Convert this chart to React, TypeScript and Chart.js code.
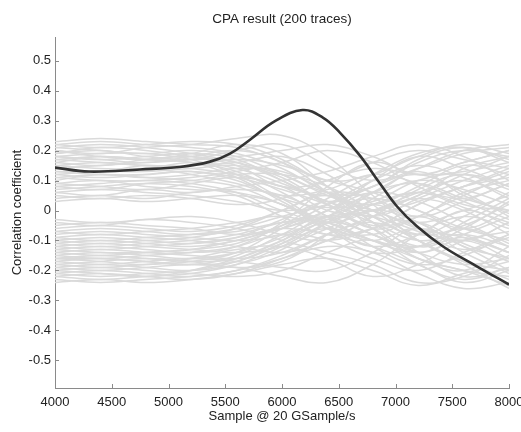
import React, { useEffect, useRef } from 'react';
import { Chart, registerables } from 'chart.js';
Chart.register(...registerables);

const TITLE = 'CPA result (200 traces)';
const X_LABEL = 'Sample @ 20 GSample/s';
const Y_LABEL = 'Correlation coefficient';
const X_TICKS = [4000, 4500, 5000, 5500, 6000, 6500, 7000, 7500, 8000];
const Y_TICKS = [-0.5, -0.4, -0.3, -0.2, -0.1, 0, 0.1, 0.2, 0.3, 0.4, 0.5];

// sample positions of the grey (wrong key) traces
const TRACE_X = [4000, 4400, 4800, 5200, 5600, 6000, 6400, 6800, 7200, 7600, 8000];

const TRACES_UPPER = [
  [0.22, 0.23, 0.22, 0.21, 0.19, 0.14, 0.06, 0.02, 0.08, 0.15, 0.12],
  [0.20, 0.19, 0.21, 0.22, 0.24, 0.25, 0.18, 0.05, -0.06, -0.10, -0.04],
  [0.18, 0.17, 0.18, 0.19, 0.17, 0.10, 0.02, -0.05, -0.02, 0.06, 0.10],
  [0.16, 0.18, 0.17, 0.16, 0.13, 0.06, -0.02, -0.08, -0.14, -0.18, -0.16],
  [0.14, 0.15, 0.16, 0.17, 0.20, 0.22, 0.15, 0.10, 0.14, 0.19, 0.21],
  [0.12, 0.11, 0.12, 0.13, 0.10, 0.04, 0.01, 0.03, 0.10, 0.12, 0.07],
  [0.10, 0.12, 0.11, 0.10, 0.08, 0.02, -0.04, -0.10, -0.16, -0.20, -0.22],
  [0.08, 0.07, 0.09, 0.10, 0.12, 0.12, 0.08, 0.00, -0.08, -0.05, 0.02],
  [0.06, 0.07, 0.06, 0.05, 0.03, 0.00, 0.02, 0.08, 0.16, 0.20, 0.18],
  [0.04, 0.05, 0.04, 0.06, 0.07, 0.05, -0.02, -0.12, -0.18, -0.15, -0.08],
  [0.21, 0.20, 0.19, 0.20, 0.18, 0.12, 0.05, 0.00, -0.04, 0.00, 0.05],
  [0.19, 0.21, 0.20, 0.18, 0.15, 0.08, 0.10, 0.16, 0.20, 0.17, 0.14],
  [0.17, 0.16, 0.15, 0.15, 0.16, 0.18, 0.12, 0.02, -0.10, -0.17, -0.20],
  [0.15, 0.14, 0.14, 0.16, 0.14, 0.09, 0.03, -0.02, 0.04, 0.10, 0.15],
  [0.13, 0.13, 0.14, 0.12, 0.09, 0.05, 0.07, 0.12, 0.09, 0.03, -0.03],
  [0.11, 0.10, 0.10, 0.11, 0.13, 0.16, 0.20, 0.16, 0.08, 0.02, 0.00],
  [0.09, 0.10, 0.08, 0.07, 0.06, 0.02, -0.06, -0.14, -0.12, -0.06, -0.12],
  [0.07, 0.08, 0.09, 0.08, 0.05, -0.02, -0.08, -0.06, 0.02, 0.08, 0.11],
  [0.23, 0.24, 0.23, 0.22, 0.21, 0.16, 0.10, 0.12, 0.18, 0.22, 0.19],
  [0.20, 0.18, 0.17, 0.19, 0.22, 0.19, 0.08, -0.04, -0.12, -0.09, -0.14],
  [0.18, 0.19, 0.19, 0.17, 0.12, 0.04, -0.03, 0.02, 0.06, 0.04, 0.09],
  [0.12, 0.13, 0.13, 0.14, 0.15, 0.11, 0.02, -0.06, -0.04, -0.11, -0.17],
  [0.05, 0.04, 0.05, 0.04, 0.02, 0.04, 0.10, 0.14, 0.12, 0.13, 0.16],
  [0.16, 0.15, 0.17, 0.18, 0.16, 0.12, 0.06, 0.06, 0.13, 0.05, -0.01],
  [0.09, 0.08, 0.07, 0.09, 0.11, 0.08, 0.00, -0.02, -0.07, -0.13, -0.09],
  [0.22, 0.21, 0.22, 0.23, 0.22, 0.17, 0.08, -0.02, -0.08, -0.02, 0.06],
  [0.19, 0.20, 0.18, 0.17, 0.18, 0.20, 0.22, 0.18, 0.12, 0.16, 0.20],
  [0.17, 0.18, 0.17, 0.16, 0.11, 0.03, -0.05, -0.10, -0.06, -0.14, -0.21],
  [0.14, 0.13, 0.15, 0.14, 0.12, 0.08, 0.05, 0.08, 0.17, 0.21, 0.17],
  [0.11, 0.12, 0.11, 0.12, 0.14, 0.13, 0.06, -0.04, -0.14, -0.22, -0.19],
  [0.08, 0.09, 0.10, 0.09, 0.06, 0.00, -0.04, 0.00, 0.06, 0.10, 0.04],
  [0.03, 0.04, 0.03, 0.04, 0.05, 0.02, -0.06, -0.08, -0.02, 0.05, 0.12],
  [0.21, 0.22, 0.21, 0.19, 0.16, 0.10, 0.03, 0.00, 0.05, 0.12, 0.18],
  [0.15, 0.16, 0.15, 0.15, 0.17, 0.15, 0.10, 0.06, 0.00, -0.06, 0.00],
  [0.13, 0.12, 0.12, 0.13, 0.11, 0.07, 0.02, -0.04, -0.10, -0.08, -0.12],
  [0.06, 0.05, 0.07, 0.06, 0.08, 0.10, 0.13, 0.18, 0.22, 0.18, 0.10],
  [0.18, 0.17, 0.16, 0.18, 0.20, 0.16, 0.06, -0.06, -0.16, -0.20, -0.25],
];

const TRACES_LOWER = [
  [-0.22, -0.23, -0.22, -0.21, -0.18, -0.12, -0.04, 0.02, 0.06, 0.01, -0.04],
  [-0.20, -0.19, -0.20, -0.21, -0.22, -0.20, -0.14, -0.10, -0.18, -0.23, -0.19],
  [-0.18, -0.19, -0.18, -0.17, -0.14, -0.06, 0.02, 0.10, 0.15, 0.11, 0.05],
  [-0.16, -0.15, -0.16, -0.17, -0.16, -0.10, -0.02, -0.06, -0.14, -0.08, -0.02],
  [-0.14, -0.15, -0.14, -0.13, -0.11, -0.05, 0.04, 0.12, 0.19, 0.21, 0.16],
  [-0.12, -0.11, -0.12, -0.13, -0.14, -0.12, -0.06, 0.00, -0.04, -0.12, -0.16],
  [-0.10, -0.11, -0.10, -0.09, -0.06, 0.00, 0.06, 0.04, -0.02, 0.03, 0.09],
  [-0.08, -0.07, -0.08, -0.09, -0.10, -0.08, -0.02, 0.06, 0.09, 0.04, 0.00],
  [-0.06, -0.05, -0.06, -0.07, -0.05, 0.00, 0.05, -0.02, -0.10, -0.17, -0.23],
  [-0.04, -0.05, -0.03, -0.04, -0.06, -0.10, -0.14, -0.18, -0.24, -0.22, -0.15],
  [-0.21, -0.20, -0.21, -0.22, -0.20, -0.15, -0.08, -0.02, 0.03, 0.08, 0.13],
  [-0.19, -0.20, -0.19, -0.18, -0.19, -0.22, -0.24, -0.18, -0.08, -0.02, -0.06],
  [-0.17, -0.16, -0.17, -0.18, -0.15, -0.08, 0.00, 0.04, 0.00, -0.06, -0.10],
  [-0.15, -0.16, -0.15, -0.14, -0.12, -0.08, -0.10, -0.16, -0.20, -0.14, -0.08],
  [-0.13, -0.12, -0.13, -0.14, -0.12, -0.04, 0.08, 0.16, 0.12, 0.16, 0.20],
  [-0.11, -0.12, -0.11, -0.10, -0.08, -0.04, -0.02, -0.08, -0.12, -0.06, 0.03],
  [-0.09, -0.08, -0.09, -0.10, -0.12, -0.14, -0.10, -0.02, 0.07, 0.12, 0.08],
  [-0.07, -0.08, -0.07, -0.06, -0.04, -0.02, -0.06, -0.12, -0.08, 0.00, -0.05],
  [-0.23, -0.24, -0.23, -0.22, -0.20, -0.16, -0.12, -0.14, -0.21, -0.26, -0.24],
  [-0.20, -0.21, -0.22, -0.20, -0.16, -0.10, -0.04, -0.08, -0.16, -0.20, -0.12],
  [-0.18, -0.17, -0.16, -0.17, -0.19, -0.17, -0.08, 0.04, 0.10, 0.07, 0.02],
  [-0.13, -0.14, -0.14, -0.13, -0.10, -0.06, -0.02, 0.00, 0.05, 0.14, 0.18],
  [-0.05, -0.04, -0.05, -0.06, -0.08, -0.06, 0.00, 0.06, 0.03, -0.04, -0.11],
  [-0.16, -0.17, -0.18, -0.16, -0.13, -0.12, -0.16, -0.22, -0.18, -0.10, -0.07],
  [-0.10, -0.09, -0.10, -0.11, -0.09, -0.03, 0.03, 0.00, -0.06, -0.09, -0.14],
  [-0.22, -0.21, -0.22, -0.23, -0.21, -0.16, -0.10, -0.06, -0.02, -0.08, -0.14],
  [-0.19, -0.18, -0.19, -0.20, -0.18, -0.13, -0.04, 0.06, 0.14, 0.20, 0.22],
  [-0.17, -0.18, -0.17, -0.16, -0.17, -0.19, -0.20, -0.14, -0.06, -0.12, -0.20],
  [-0.15, -0.14, -0.15, -0.16, -0.14, -0.09, -0.02, 0.02, -0.04, -0.10, -0.04],
  [-0.12, -0.13, -0.12, -0.11, -0.09, -0.06, -0.08, -0.12, -0.18, -0.24, -0.20],
  [-0.09, -0.10, -0.09, -0.08, -0.06, -0.02, 0.02, 0.08, 0.12, 0.06, -0.02],
  [-0.03, -0.04, -0.03, -0.02, -0.04, -0.08, -0.10, -0.06, 0.02, 0.08, 0.14],
  [-0.21, -0.22, -0.21, -0.20, -0.17, -0.11, -0.06, -0.10, -0.12, -0.04, 0.04],
  [-0.14, -0.13, -0.14, -0.15, -0.16, -0.14, -0.08, -0.04, -0.10, -0.18, -0.26],
  [-0.11, -0.10, -0.11, -0.12, -0.10, -0.05, 0.00, 0.10, 0.18, 0.14, 0.08],
  [-0.07, -0.06, -0.07, -0.08, -0.07, -0.04, -0.04, -0.10, -0.14, -0.10, -0.16],
  [-0.24, -0.23, -0.24, -0.23, -0.21, -0.18, -0.16, -0.20, -0.25, -0.21, -0.17],
  [-0.16, -0.16, -0.17, -0.18, -0.17, -0.11, -0.03, 0.00, 0.04, 0.00, -0.08],
];

// correct key guess (dark line)
const KEY_X = [4000, 4300, 4750, 5100, 5366, 5542, 5718, 5938, 6180, 6360, 6510, 6687, 6863, 7010, 7186, 7419, 7720, 8000];
const KEY_Y = [0.143, 0.13, 0.137, 0.145, 0.163, 0.19, 0.236, 0.298, 0.335, 0.31, 0.26, 0.183, 0.09, 0.015, -0.052, -0.12, -0.187, -0.247];

const FONT = "'Liberation Sans', Arial, Helvetica, sans-serif";
const TEXT = '#222222';
const AXIS = '#8a8a8a';

export default function App() {
  const ref = useRef<HTMLCanvasElement>(null);

  useEffect(() => {
    if (!ref.current) return;
    const greys = [...TRACES_UPPER, ...TRACES_LOWER].map((arr, k) => ({
      label: 'trace ' + k,
      data: TRACE_X.map((x, i) => ({ x, y: arr[i] })),
      borderColor: '#dadada',
      borderWidth: 1.5,
      pointRadius: 0,
      tension: 0.4,
      fill: false,
      order: 1,
    }));
    const key = {
      label: 'key',
      data: KEY_X.map((x, i) => ({ x, y: KEY_Y[i] })),
      borderColor: '#333333',
      borderWidth: 2.6,
      pointRadius: 0,
      tension: 0.4,
      fill: false,
      order: 0,
    };

    const tickPlugin = {
      id: 'inwardTicks',
      afterDatasetsDraw(chart: any) {
        const { ctx, chartArea, scales } = chart;
        const xs = scales.x;
        const ys = scales.y;
        ctx.save();
        ctx.strokeStyle = AXIS;
        ctx.lineWidth = 1;
        ctx.beginPath();
        X_TICKS.forEach((v) => {
          const px = Math.round(xs.getPixelForValue(v)) + 0.5;
          ctx.moveTo(px, chartArea.bottom);
          ctx.lineTo(px, chartArea.bottom - 4);
        });
        Y_TICKS.forEach((v) => {
          const py = Math.round(ys.getPixelForValue(v)) + 0.5;
          ctx.moveTo(chartArea.left, py);
          ctx.lineTo(chartArea.left + 4, py);
        });
        ctx.stroke();
        ctx.restore();
      },
    };

    const chart = new Chart(ref.current, {
      type: 'line',
      data: { datasets: [key, ...greys] as any },
      options: {
        responsive: false,
        animation: false,
        devicePixelRatio: 1,
        layout: { padding: { left: 0, right: 12, top: 0, bottom: 0 } },
        plugins: {
          legend: { display: false },
          tooltip: { enabled: false },
          title: {
            display: true,
            text: TITLE,
            fullSize: false,
            color: TEXT,
            font: { family: FONT, size: 13.5, weight: 'normal' },
            padding: { top: 11, bottom: 10 },
          },
        },
        scales: {
          x: {
            type: 'linear',
            min: 4000,
            max: 8000,
            afterBuildTicks: (s: any) => {
              s.ticks = X_TICKS.map((v) => ({ value: v }));
            },
            afterFit: (s: any) => {
              s.height = 44;
              s.paddingLeft = 0;
              s.paddingRight = 0;
            },
            grid: { display: false, drawTicks: false },
            border: { display: true, color: AXIS, width: 1 },
            ticks: {
              color: TEXT,
              font: { family: FONT, size: 13 },
              padding: 7,
              maxRotation: 0,
              autoSkip: false,
              callback: (v: any) => String(v),
            },
            title: {
              display: true,
              text: X_LABEL,
              color: TEXT,
              font: { family: FONT, size: 13 },
              padding: { top: 0, bottom: 8 },
            },
          },
          y: {
            type: 'linear',
            min: -0.592,
            max: 0.578,
            afterBuildTicks: (s: any) => {
              s.ticks = Y_TICKS.map((v) => ({ value: v }));
            },
            afterFit: (s: any) => {
              s.width = 55;
              s.paddingTop = 0;
              s.paddingBottom = 0;
            },
            grid: { display: false, drawTicks: false },
            border: { display: true, color: AXIS, width: 1 },
            ticks: {
              color: TEXT,
              font: { family: FONT, size: 13 },
              padding: 4,
              autoSkip: false,
              callback: (v: any) => String(Math.round(Number(v) * 10) / 10),
            },
            title: {
              display: true,
              text: Y_LABEL,
              color: TEXT,
              font: { family: FONT, size: 13 },
              padding: { top: 10, bottom: 0 },
            },
          },
        },
      },
      plugins: [tickPlugin],
    });
    return () => chart.destroy();
  }, []);

  return (
    <div style={{ position: 'fixed', left: 0, top: 0, width: 521, height: 432, background: '#ffffff' }}>
      <canvas ref={ref} width={521} height={432} style={{ display: 'block', width: 521, height: 432 }} />
    </div>
  );
}
